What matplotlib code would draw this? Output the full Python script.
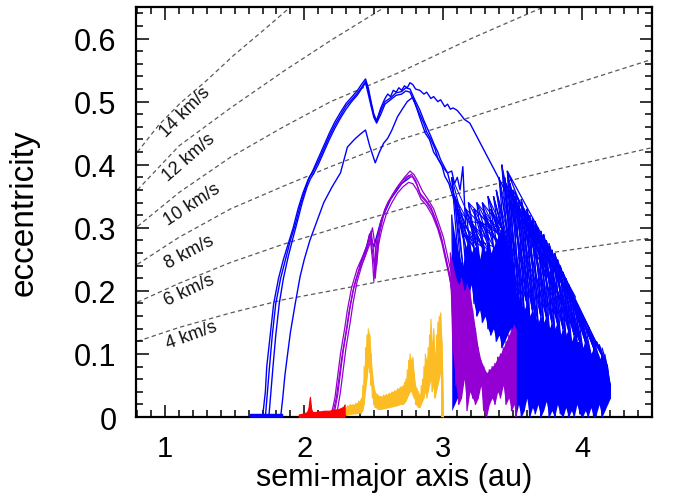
import numpy as np
import matplotlib
matplotlib.use("Agg")
import matplotlib.pyplot as plt
from matplotlib.ticker import MultipleLocator
from matplotlib.collections import LineCollection

plt.rcParams["font.family"] = ["Liberation Sans", "DejaVu Sans"]

# ---- constant encounter-velocity curves ----
v_labels = ["14 km/s", "12 km/s", "10 km/s", "8 km/s", "6 km/s", "4 km/s"]
v14_a = [0.80, 0.95, 1.11, 1.30, 1.49, 1.70, 1.90]
v14_e = [0.420, 0.462, 0.498, 0.534, 0.573, 0.612, 0.650]
v12_a = [0.80, 1.10, 1.47, 1.85, 2.19, 2.58]
v12_e = [0.360, 0.430, 0.490, 0.548, 0.597, 0.650]
v10_a = [0.80, 1.10, 1.47, 1.85, 2.19, 2.69, 3.20, 3.72]
v10_e = [0.302, 0.356, 0.412, 0.460, 0.500, 0.547, 0.600, 0.650]
v8_a = [0.80, 1.10, 1.47, 1.85, 2.19, 2.69, 2.91, 3.50, 4.00, 4.50]
v8_e = [0.242, 0.285, 0.330, 0.366, 0.397, 0.440, 0.455, 0.497, 0.532, 0.567]
v6_a = [0.80, 1.10, 1.47, 1.85, 2.19, 2.69, 3.20, 3.80, 4.50]
v6_e = [0.182, 0.212, 0.245, 0.274, 0.297, 0.329, 0.360, 0.392, 0.427]
v4_a = [0.80, 1.10, 1.47, 1.85, 2.19, 2.69, 3.20, 3.79, 4.50]
v4_e = [0.120, 0.142, 0.165, 0.186, 0.200, 0.221, 0.240, 0.261, 0.284]
v_label_a = [1.14, 1.17, 1.19, 1.17, 1.17, 1.19]
v_label_e = [0.485, 0.412, 0.338, 0.262, 0.202, 0.131]
v_label_rot = [45, 41, 33, 28, 25, 20]

# ---- blue runs: smooth tracks ----
b1_a = [1.61, 1.70, 1.72, 1.73, 1.755, 1.78, 1.815, 1.85, 1.885, 1.92, 1.955, 1.99,
        2.025, 2.06, 2.10, 2.14, 2.18, 2.22, 2.26, 2.30, 2.34, 2.38, 2.41, 2.44,
        2.46, 2.48, 2.50, 2.52, 2.55, 2.58, 2.60, 2.62, 2.64, 2.66, 2.68, 2.70,
        2.72, 2.74, 2.76, 2.78, 2.80, 2.83, 2.86, 2.88, 2.91, 2.93, 2.96, 2.98,
        3.01, 3.03, 3.05, 3.07, 3.10, 3.13, 3.15, 3.19, 3.43]
b1_e = [0.0, 0.0, 0.04, 0.08, 0.13, 0.18, 0.22, 0.25, 0.275, 0.30, 0.33, 0.355,
        0.375, 0.39, 0.41, 0.43, 0.45, 0.468, 0.483, 0.497, 0.507, 0.517, 0.527, 0.536,
        0.522, 0.50, 0.48, 0.47, 0.49, 0.505, 0.512, 0.508, 0.518, 0.515, 0.522, 0.518,
        0.525, 0.522, 0.53, 0.527, 0.52, 0.518, 0.512, 0.515, 0.505, 0.508, 0.50, 0.503,
        0.492, 0.496, 0.488, 0.49, 0.486, 0.478, 0.472, 0.466, 0.365]
b2_a = [1.61, 1.72, 1.735, 1.75, 1.77, 1.795, 1.83, 1.865, 1.90, 1.935, 1.97, 2.005,
        2.035, 2.06, 2.10, 2.14, 2.18, 2.22, 2.26, 2.30, 2.34, 2.38, 2.41, 2.44,
        2.46, 2.48, 2.50, 2.52, 2.55, 2.58, 2.62, 2.66, 2.70, 2.73, 2.76, 2.79,
        2.83, 2.86, 2.88, 2.91, 2.93, 2.96, 2.98, 3.01, 3.03, 3.05, 3.08, 3.10,
        3.12, 3.14, 3.16]
b2_e = [0.0, 0.0, 0.04, 0.08, 0.13, 0.18, 0.22, 0.25, 0.28, 0.305, 0.335, 0.36,
        0.38, 0.388, 0.405, 0.425, 0.445, 0.463, 0.478, 0.493, 0.503, 0.513, 0.522, 0.532,
        0.518, 0.497, 0.478, 0.468, 0.486, 0.50, 0.506, 0.514, 0.516, 0.522, 0.52, 0.505,
        0.487, 0.47, 0.46, 0.445, 0.434, 0.42, 0.408, 0.395, 0.387, 0.37, 0.35, 0.335,
        0.31, 0.292, 0.24]
b3_a = [1.61, 1.745, 1.76, 1.775, 1.795, 1.82, 1.85, 1.885, 1.92, 1.95, 1.985, 2.02,
        2.045, 2.065, 2.10, 2.14, 2.18, 2.22, 2.26, 2.30, 2.34, 2.38, 2.41, 2.44,
        2.46, 2.48, 2.50, 2.52, 2.55, 2.58, 2.62, 2.66, 2.70, 2.73, 2.76, 2.79,
        2.83, 2.86, 2.88, 2.91, 2.94, 2.96, 2.99, 3.01, 3.04, 3.06, 3.08, 3.10,
        3.12, 3.14]
b3_e = [0.0, 0.0, 0.04, 0.08, 0.13, 0.18, 0.22, 0.255, 0.285, 0.31, 0.34, 0.365,
        0.378, 0.385, 0.40, 0.42, 0.44, 0.458, 0.474, 0.488, 0.50, 0.51, 0.52, 0.53,
        0.512, 0.493, 0.475, 0.466, 0.48, 0.496, 0.503, 0.51, 0.512, 0.517, 0.515, 0.50,
        0.48, 0.465, 0.452, 0.44, 0.425, 0.41, 0.398, 0.382, 0.37, 0.355, 0.342, 0.325,
        0.305, 0.285]
b4_a = [1.61, 1.83, 1.845, 1.86, 1.88, 1.90, 1.935, 1.97, 2.00, 2.04, 2.09, 2.14,
        2.20, 2.26, 2.31, 2.36, 2.40, 2.44, 2.47, 2.51, 2.54, 2.57, 2.60, 2.63,
        2.67, 2.71, 2.74, 2.78, 2.80, 2.83, 2.87, 2.90, 2.93, 2.96, 3.00, 3.03,
        3.06, 3.08, 3.10, 3.12, 3.14, 3.16]
b4_e = [0.0, 0.0, 0.03, 0.065, 0.10, 0.134, 0.18, 0.223, 0.25, 0.28, 0.31, 0.34,
        0.365, 0.387, 0.428, 0.44, 0.448, 0.455, 0.43, 0.403, 0.42, 0.434, 0.442, 0.455,
        0.476, 0.49, 0.50, 0.507, 0.495, 0.475, 0.45, 0.44, 0.42, 0.41, 0.395, 0.387,
        0.39, 0.37, 0.38, 0.36, 0.397, 0.30]
b5_a = [2.40, 2.43, 2.45, 2.47, 2.50, 2.55, 2.62, 2.70, 2.76]
b5_e = [0.24, 0.26, 0.272, 0.29, 0.27, 0.31, 0.345, 0.37, 0.38]

# ---- blue runs: chaotic region (top of streaks / top of dense part / bottom) ----
bc_a = [3.06, 3.08, 3.10, 3.12, 3.14, 3.16, 3.18, 3.20, 3.22, 3.24, 3.26, 3.28,
        3.30, 3.32, 3.34, 3.36, 3.38, 3.40, 3.42, 3.44, 3.46, 3.48, 3.50, 3.52,
        3.54, 3.56, 3.58, 3.60, 3.62, 3.64, 3.66, 3.68, 3.70, 3.72, 3.74, 3.76,
        3.78, 3.80, 3.82, 3.84, 3.86, 3.88, 3.90, 3.92, 3.94, 3.96, 3.98, 4.00,
        4.02, 4.04, 4.06, 4.08, 4.10, 4.12, 4.14, 4.16, 4.18, 4.20]
bc_up = [0.38, 0.35, 0.33, 0.31, 0.29, 0.33, 0.34, 0.31, 0.33, 0.34, 0.31, 0.34,
         0.32, 0.35, 0.33, 0.35, 0.36, 0.38, 0.40, 0.38, 0.39, 0.37, 0.36, 0.35,
         0.34, 0.345, 0.33, 0.33, 0.32, 0.315, 0.31, 0.30, 0.295, 0.29, 0.28, 0.275,
         0.265, 0.26, 0.25, 0.24, 0.23, 0.22, 0.21, 0.20, 0.19, 0.18, 0.165, 0.155,
         0.145, 0.14, 0.13, 0.125, 0.12, 0.115, 0.11, 0.10, 0.09, 0.055]
bc_mid = [0.32, 0.29, 0.27, 0.25, 0.24, 0.27, 0.28, 0.26, 0.27, 0.27, 0.25, 0.27,
          0.26, 0.28, 0.26, 0.27, 0.28, 0.29, 0.30, 0.28, 0.28, 0.26, 0.24, 0.20,
          0.19, 0.18, 0.17, 0.18, 0.16, 0.17, 0.16, 0.15, 0.16, 0.15, 0.16, 0.14,
          0.15, 0.14, 0.15, 0.13, 0.14, 0.13, 0.14, 0.12, 0.13, 0.12, 0.12, 0.11,
          0.12, 0.11, 0.10, 0.11, 0.10, 0.09, 0.10, 0.09, 0.08, 0.05]
bc_lo = [0.01, 0.02, 0.03, 0.12, 0.19, 0.20, 0.19, 0.21, 0.18, 0.16, 0.17, 0.15,
         0.16, 0.14, 0.13, 0.14, 0.12, 0.13, 0.11, 0.12, 0.13, 0.14, 0.10, 0.0,
         0.02, 0.0, 0.01, 0.03, 0.0, 0.015, 0.005, 0.02, 0.0, 0.01, 0.025, 0.0,
         0.01, 0.0, 0.02, 0.005, 0.0, 0.015, 0.0, 0.01, 0.0, 0.02, 0.005, 0.0,
         0.01, 0.0, 0.015, 0.0, 0.005, 0.02, 0.0, 0.01, 0.02, 0.03]
streak_a = [3.43, 3.80, 3.46, 3.95, 3.50, 3.88, 3.55, 4.05, 3.60, 3.98, 3.45, 3.72]
streak_e = [0.365, 0.20, 0.39, 0.19, 0.36, 0.20, 0.33, 0.14, 0.31, 0.12, 0.37, 0.25]

# ---- purple runs ----
p1_a = [2.19, 2.22, 2.26, 2.29, 2.31, 2.34, 2.38, 2.42, 2.45, 2.47, 2.49, 2.50,
        2.52, 2.55, 2.58, 2.62, 2.66, 2.70, 2.74, 2.77, 2.80, 2.83, 2.87, 2.91,
        2.95, 2.98, 3.01, 3.04, 3.06]
p1_e = [0.0, 0.03, 0.10, 0.14, 0.17, 0.205, 0.235, 0.255, 0.27, 0.29, 0.25, 0.215,
        0.28, 0.31, 0.33, 0.345, 0.36, 0.37, 0.38, 0.385, 0.375, 0.355, 0.345, 0.333,
        0.31, 0.29, 0.26, 0.23, 0.20]
p2_a = [2.21, 2.24, 2.28, 2.31, 2.33, 2.36, 2.40, 2.44, 2.46, 2.48, 2.50, 2.51,
        2.53, 2.56, 2.59, 2.63, 2.67, 2.71, 2.75, 2.78, 2.81, 2.84, 2.88, 2.92,
        2.96, 2.99, 3.02, 3.05, 3.07]
p2_e = [0.0, 0.035, 0.105, 0.145, 0.175, 0.21, 0.24, 0.262, 0.278, 0.295, 0.26, 0.23,
        0.285, 0.315, 0.335, 0.35, 0.365, 0.376, 0.383, 0.38, 0.368, 0.35, 0.34, 0.325,
        0.30, 0.28, 0.25, 0.22, 0.19]
p3_a = [2.23, 2.26, 2.30, 2.33, 2.35, 2.38, 2.42, 2.45, 2.47, 2.49, 2.51, 2.52,
        2.54, 2.57, 2.60, 2.64, 2.68, 2.72, 2.76, 2.79, 2.82, 2.85, 2.89, 2.93,
        2.97, 3.00, 3.03, 3.06, 3.08]
p3_e = [0.0, 0.04, 0.11, 0.15, 0.18, 0.215, 0.245, 0.265, 0.28, 0.30, 0.27, 0.24,
        0.29, 0.32, 0.34, 0.355, 0.368, 0.38, 0.39, 0.384, 0.372, 0.358, 0.345, 0.33,
        0.305, 0.285, 0.255, 0.225, 0.195]
p4_a = [2.20, 2.23, 2.27, 2.30, 2.32, 2.35, 2.39, 2.43, 2.46, 2.48, 2.50, 2.51,
        2.53, 2.56, 2.59, 2.63, 2.67, 2.71, 2.75, 2.78, 2.81, 2.84, 2.88, 2.92,
        2.96, 2.99, 3.02, 3.05, 3.07]
p4_e = [0.0, 0.03, 0.095, 0.135, 0.165, 0.20, 0.23, 0.25, 0.268, 0.28, 0.245, 0.22,
        0.27, 0.30, 0.322, 0.34, 0.355, 0.365, 0.372, 0.37, 0.36, 0.345, 0.335, 0.32,
        0.298, 0.275, 0.245, 0.215, 0.185]
pm_a = [3.05, 3.07, 3.09, 3.11, 3.13, 3.15, 3.17, 3.19, 3.21, 3.23, 3.25, 3.27,
        3.29, 3.31, 3.33, 3.35, 3.37, 3.39, 3.41, 3.43, 3.45, 3.47, 3.49, 3.51, 3.52]
pm_up = [0.26, 0.24, 0.22, 0.21, 0.22, 0.20, 0.21, 0.20, 0.17, 0.14, 0.11, 0.09,
         0.08, 0.07, 0.075, 0.08, 0.085, 0.095, 0.10, 0.11, 0.12, 0.13, 0.14, 0.145, 0.14]
pm_lo = [0.20, 0.10, 0.05, 0.02, 0.03, 0.06, 0.01, 0.04, 0.03, 0.02, 0.03, 0.05,
         0.01, 0.0, 0.02, 0.03, 0.02, 0.04, 0.03, 0.05, 0.02, 0.03, 0.01, 0.02, 0.0]

# ---- orange runs ----
o_a = [2.29, 2.31, 2.33, 2.35, 2.37, 2.39, 2.41,
       2.42, 2.43, 2.44, 2.45, 2.46, 2.47, 2.48, 2.49, 2.50, 2.51,
       2.53, 2.55, 2.57, 2.59, 2.61, 2.63, 2.65, 2.67, 2.69, 2.71,
       2.72, 2.73, 2.74, 2.75, 2.76, 2.77, 2.78, 2.79, 2.80, 2.81,
       2.82, 2.83, 2.84, 2.85, 2.86, 2.87, 2.88, 2.89, 2.90, 2.91,
       2.92, 2.93, 2.94, 2.95, 2.96, 2.97, 2.98, 2.99, 3.00]
o_up = [0.015, 0.018, 0.02, 0.02, 0.022, 0.025, 0.03,
        0.05, 0.08, 0.11, 0.13, 0.14, 0.13, 0.10, 0.07, 0.05, 0.04,
        0.035, 0.033, 0.035, 0.036, 0.038, 0.04, 0.042, 0.045, 0.048, 0.05,
        0.055, 0.06, 0.075, 0.09, 0.10, 0.09, 0.095, 0.07, 0.05, 0.045,
        0.04, 0.035, 0.05, 0.06, 0.08, 0.10, 0.09, 0.11, 0.13, 0.155,
        0.12, 0.14, 0.10, 0.13, 0.15, 0.16, 0.165, 0.12, 0.02]
o_lo = [0.003, 0.003, 0.004, 0.005, 0.005, 0.006, 0.006,
        0.01, 0.02, 0.04, 0.06, 0.08, 0.07, 0.05, 0.03, 0.02, 0.015,
        0.012, 0.012, 0.013, 0.014, 0.015, 0.016, 0.017, 0.018, 0.02, 0.02,
        0.022, 0.025, 0.03, 0.035, 0.04, 0.04, 0.035, 0.03, 0.02, 0.018,
        0.015, 0.015, 0.02, 0.025, 0.03, 0.04, 0.03, 0.04, 0.05, 0.06,
        0.04, 0.05, 0.03, 0.04, 0.05, 0.06, 0.07, 0.0, 0.0]

# ---- red runs ----
r_a = [1.96, 1.98, 2.00, 2.02, 2.03, 2.04, 2.05, 2.06, 2.08, 2.10, 2.12, 2.14,
       2.16, 2.18, 2.20, 2.22, 2.24, 2.26, 2.28, 2.29]
r_up = [0.004, 0.005, 0.006, 0.008, 0.015, 0.032, 0.012, 0.008, 0.008, 0.009, 0.009, 0.01,
        0.01, 0.01, 0.011, 0.012, 0.012, 0.014, 0.016, 0.02]

BLUE = "#0000ff"
PURPLE = "#9400d3"
ORANGE = "#fbbd23"
RED = "#ff0000"


def zigzag(a, up, lo, step=1):
    # walk back and forth between an upper and a lower extent
    n = len(a)
    xs, ys = [], []
    for i in range(n):
        j = min(i + step, n - 1)
        xs += [a[i], a[j]]
        ys += [up[i], lo[j]]
    return xs, ys


def streaks(a, up, lo, step):
    # separate slanted strokes from the top of one column to the bottom of a later one
    n = len(a)
    return [[(a[i], up[i]), (a[i + step], lo[i + step])] for i in range(n - step)]


fig = plt.figure(figsize=(6.73, 5.02), dpi=100)
ax = fig.add_axes([0.2021, 0.1673, 0.7667, 0.8167])

# velocity curves
vcurves = [(v14_a, v14_e), (v12_a, v12_e), (v10_a, v10_e),
           (v8_a, v8_e), (v6_a, v6_e), (v4_a, v4_e)]
for (va, ve) in vcurves:
    ax.plot(va, ve, color="#5a5a5a", lw=0.9, ls=(0, (3.5, 2.5)), zorder=1)
for lab, la, le, rot in zip(v_labels, v_label_a, v_label_e, v_label_rot):
    ax.text(la, le, lab, fontsize=13, rotation=rot, ha="center", va="center",
            rotation_mode="anchor", color="#111111", zorder=2)

# blue chaos: dense core plus slanted streaks above it
ax.fill_between(bc_a, bc_lo, bc_mid, color=BLUE, lw=0, zorder=3)
x, y = zigzag(bc_a, bc_mid, bc_lo, step=1)
ax.plot(x, y, color=BLUE, lw=0.9, zorder=3)
for k, lw in [(2, 0.9), (4, 0.9), (7, 0.8), (11, 0.7)]:
    ax.add_collection(LineCollection(streaks(bc_a, bc_up, bc_mid, k),
                                     colors=BLUE, linewidths=lw, zorder=3))
ax.plot(streak_a, streak_e, color=BLUE, lw=0.9, zorder=3)

# blue tracks
for (ba, be) in [(b1_a, b1_e), (b2_a, b2_e), (b3_a, b3_e), (b4_a, b4_e), (b5_a, b5_e)]:
    ax.plot(ba, be, color=BLUE, lw=1.0, zorder=4)
ax.fill_between([1.61, 1.84], [0.0, 0.0], [0.004, 0.004], color=BLUE, lw=1.0, zorder=4)

# purple
for (pa, pe) in [(p1_a, p1_e), (p2_a, p2_e), (p3_a, p3_e), (p4_a, p4_e)]:
    ax.plot(pa, pe, color=PURPLE, lw=0.9, zorder=5)
ax.fill_between(pm_a, pm_lo, pm_up, color=PURPLE, lw=0, zorder=5)
x, y = zigzag(pm_a, pm_up, pm_lo, step=1)
ax.plot(x, y, color=PURPLE, lw=0.9, zorder=5)

# orange
ax.fill_between(o_a, o_lo, o_up, color=ORANGE, lw=0, zorder=6)
x, y = zigzag(o_a, o_up, o_lo, step=1)
ax.plot(x, y, color=ORANGE, lw=0.8, zorder=6)

# red
ax.fill_between(r_a, 0, r_up, color=RED, lw=0.8, edgecolor=RED, zorder=6)

ax.set_xlim(0.79, 4.5)
ax.set_ylim(0, 0.65)
ax.set_xticks([1, 2, 3, 4])
ax.xaxis.set_minor_locator(MultipleLocator(0.1))
ax.yaxis.set_major_locator(MultipleLocator(0.1))
ax.yaxis.set_minor_locator(MultipleLocator(0.02))
ax.tick_params(which="both", direction="in", top=True, right=True, width=1.1)
ax.tick_params(which="major", length=9)
ax.tick_params(axis="y", which="major", pad=14, labelsize=22)
ax.tick_params(axis="x", which="major", pad=12, labelsize=21)
ax.tick_params(which="minor", length=5)
for s in ax.spines.values():
    s.set_linewidth(1.6)

ax.yaxis.set_major_formatter(plt.FuncFormatter(lambda v, p: "0" if abs(v) < 1e-9 else f"{v:.1f}"))
ax.set_xlabel("semi-major axis (au)", fontsize=22, labelpad=0.5)
ax.set_ylabel("eccentricity", fontsize=24, labelpad=25)

fig.savefig("out.png", dpi=100)
